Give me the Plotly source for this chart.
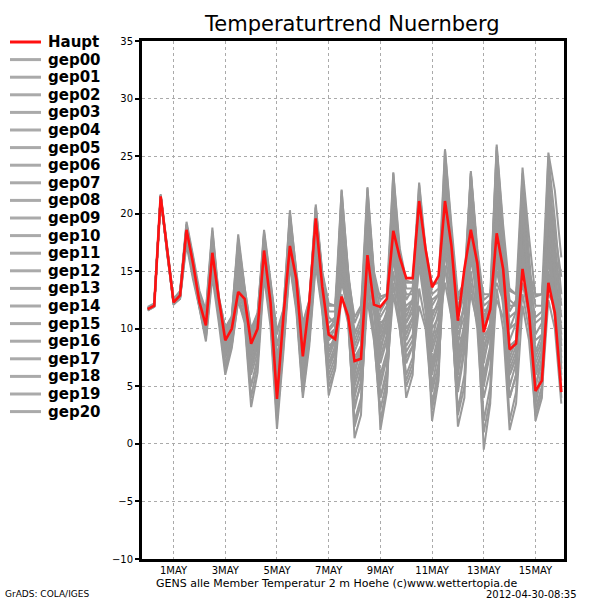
import pandas as pd
import plotly.graph_objects as go

# ---------------- data ----------------
start_time = "2012-04-30 00:00"
n_steps = 65  # 6-hourly, 30 Apr 00Z .. 16 May 00Z

haupt = [11.7, 12.0, 21.5, 16.7,
         12.3, 12.9, 18.6, 15.7,
         12.3, 10.3, 16.6, 12.6,
         9.0, 10.0, 13.2, 12.6,
         8.7, 10.0, 16.8, 12.3,
         3.9, 11.1, 17.2, 14.3,
         7.6, 12.3, 19.6, 13.7,
         9.5, 9.1, 12.8, 11.1,
         7.2, 7.4, 16.4, 12.1,
         11.9, 12.6, 18.5, 16.2,
         14.4, 14.4, 21.1, 16.9,
         13.6, 14.6, 21.1, 17.2,
         10.7, 15.2, 18.6, 15.7,
         9.7, 11.7, 18.3, 15.2,
         8.2, 8.7, 15.2, 11.4,
         4.6, 5.5, 14.0, 11.4,
         4.5]

gep00 = [11.8, 12.1, 21.3, 16.9, 12.4, 13.0, 18.9, 15.5, 12.5, 10.8, 17.2, 12.4, 8.6, 10.2, 14.5, 12.8,
         8.2, 10.6, 17.5, 13.0, 5.0, 10.8, 18.0, 14.0, 6.5, 11.5, 19.0, 13.2, 8.0, 9.5, 15.0, 12.0,
         6.0, 8.5, 17.5, 13.0, 9.0, 11.0, 19.5, 14.5, 10.5, 12.0, 20.0, 15.5, 9.0, 11.5, 21.5, 16.0,
         8.5, 12.5, 20.0, 14.0, 7.0, 10.0, 19.0, 14.5, 9.0, 10.5, 17.0, 12.5, 6.5, 8.0, 16.5, 13.0, 8.0]
gep01 = [11.6, 11.9, 21.6, 16.5, 12.2, 12.8, 18.2, 15.2, 12.0, 9.5, 15.8, 11.5, 7.5, 9.0, 13.0, 11.8,
         6.5, 8.5, 16.0, 12.5, 6.0, 9.8, 19.2, 14.5, 9.0, 12.0, 20.5, 14.8, 10.5, 11.0, 21.5, 14.5,
         9.0, 10.5, 20.0, 14.0, 8.0, 10.5, 22.0, 16.0, 11.0, 12.5, 22.5, 16.5, 10.5, 12.0, 24.5, 17.5,
         11.0, 13.0, 23.5, 16.5, 10.0, 12.0, 25.5, 18.0, 11.5, 12.5, 21.0, 14.0, 8.0, 9.5, 20.5, 15.0, 10.0]
gep02 = [11.7, 12.0, 21.4, 16.6, 12.1, 12.6, 17.3, 14.3, 11.8, 8.9, 14.5, 10.5, 6.0, 8.3, 12.5, 10.5,
         3.2, 6.2, 14.5, 10.2, 1.3, 8.0, 15.5, 11.5, 4.0, 8.5, 15.5, 11.5, 5.0, 6.5, 13.0, 10.5,
         2.0, 4.0, 12.5, 9.0, 3.0, 5.5, 14.0, 10.0, 5.0, 6.5, 13.5, 10.5, 4.5, 7.0, 15.5, 11.0,
         3.0, 6.0, 15.0, 11.0, 4.0, 6.5, 16.0, 12.0, 6.0, 7.5, 13.0, 10.0, 3.0, 5.0, 14.5, 11.0, 5.5]
gep03 = [11.9, 12.2, 21.7, 17.0, 12.6, 13.3, 19.3, 16.4, 13.3, 11.6, 18.8, 12.8, 10.0, 11.0, 18.2, 13.6,
         9.8, 11.3, 18.6, 14.2, 9.5, 11.6, 20.3, 14.8, 10.3, 12.4, 20.8, 15.0, 12.2, 12.0, 22.0, 15.0,
         10.5, 11.8, 22.3, 15.0, 12.5, 13.0, 23.6, 17.0, 14.2, 14.0, 22.7, 17.0, 13.8, 14.0, 25.6, 19.0,
         12.8, 14.0, 23.7, 17.0, 12.5, 13.0, 26.0, 19.0, 13.3, 13.0, 24.0, 18.0, 12.8, 13.0, 25.3, 22.0, 16.2]
gep04 = [11.7, 12.0, 21.5, 16.8, 12.3, 12.9, 18.0, 15.0, 12.2, 10.0, 16.0, 11.8, 8.0, 9.5, 15.5, 12.0,
         7.5, 9.5, 15.8, 11.5, 3.0, 9.0, 16.5, 12.5, 5.5, 10.0, 18.5, 12.5, 6.5, 8.0, 18.0, 12.5,
         4.0, 6.5, 19.0, 12.0, 5.0, 7.5, 20.5, 13.0, 8.0, 9.0, 19.0, 13.5, 5.0, 8.0, 22.0, 14.0,
         6.0, 9.5, 21.0, 13.0, 2.0, 5.0, 22.5, 14.0, 4.0, 6.0, 20.0, 13.0, 3.5, 6.0, 22.0, 15.0, 7.0]
gep05 = [11.8, 12.0, 21.4, 16.7, 12.2, 12.7, 18.4, 15.8, 12.8, 11.0, 17.8, 12.2, 9.5, 10.5, 16.5, 13.0,
         9.0, 10.8, 17.8, 13.5, 7.0, 11.0, 19.0, 14.0, 8.0, 11.0, 17.5, 13.5, 11.0, 10.5, 14.0, 12.0,
         10.0, 9.5, 13.0, 11.5, 10.5, 11.0, 16.0, 13.0, 12.0, 12.5, 17.5, 14.0, 12.5, 13.0, 19.0, 15.5,
         12.0, 13.5, 17.0, 14.5, 11.5, 12.0, 14.0, 12.5, 11.0, 11.5, 15.0, 12.5, 10.5, 11.0, 13.0, 12.0, 11.5]
gep06 = [11.6, 12.0, 21.5, 16.6, 12.4, 13.1, 19.0, 16.0, 12.4, 10.5, 17.0, 12.3, 9.2, 10.0, 14.0, 12.5,
         8.0, 9.8, 18.2, 13.0, 4.5, 10.5, 19.8, 14.5, 7.0, 11.8, 20.0, 14.0, 9.0, 10.0, 19.5, 13.5,
         5.0, 7.0, 21.0, 14.5, 1.2, 4.5, 17.0, 11.0, 4.0, 6.0, 18.0, 12.5, 2.0, 5.5, 20.0, 13.5,
         4.5, 8.0, 22.0, 14.5, 8.0, 10.5, 24.5, 16.5, 7.0, 8.5, 23.0, 15.5, 5.0, 7.5, 24.0, 17.5, 12.0]
gep07 = [11.7, 12.1, 21.6, 16.8, 12.3, 12.9, 18.5, 15.4, 12.1, 10.2, 16.3, 12.0, 8.8, 9.8, 13.8, 12.2,
         8.5, 10.2, 16.5, 12.5, 6.0, 10.0, 17.0, 13.0, 4.5, 9.0, 16.0, 12.0, 7.0, 8.5, 16.5, 12.0,
         6.5, 8.0, 18.5, 12.5, 7.5, 9.5, 19.0, 14.0, 9.5, 11.0, 20.5, 15.0, 8.0, 10.0, 23.0, 15.5,
         7.5, 10.5, 18.5, 13.5, 9.0, 10.5, 16.5, 13.0, 8.0, 9.0, 18.0, 13.0, 7.0, 8.5, 19.0, 14.0, 9.0]
gep08 = [11.8, 12.1, 21.5, 16.7, 12.5, 13.2, 18.8, 15.9, 12.6, 10.6, 17.5, 12.5, 9.8, 10.8, 17.0, 13.2,
         9.5, 11.0, 18.0, 13.8, 8.5, 11.3, 18.5, 14.2, 9.5, 12.2, 19.5, 14.5, 11.5, 11.5, 20.5, 14.0,
         8.0, 9.5, 16.0, 12.5, 11.0, 12.0, 18.0, 15.0, 13.0, 13.0, 21.0, 16.0, 13.0, 13.5, 22.5, 17.0,
         12.5, 13.5, 19.5, 15.5, 11.0, 12.5, 20.0, 15.5, 12.0, 12.0, 19.0, 14.0, 11.0, 11.5, 17.5, 13.5, 12.5]
gep09 = [11.7, 12.0, 21.4, 16.6, 12.2, 12.6, 17.8, 14.8, 12.0, 9.8, 15.5, 11.2, 7.0, 8.8, 12.8, 11.0,
         5.0, 7.5, 15.0, 11.0, 2.0, 8.5, 16.0, 12.0, 5.0, 9.5, 17.0, 12.0, 4.2, 6.5, 17.5, 11.5,
         0.5, 2.5, 15.0, 9.5, 2.0, 5.0, 17.5, 11.0, 6.0, 7.5, 16.5, 12.0, 3.0, 6.0, 19.0, 12.5,
         1.5, 4.0, 17.5, 11.5, -0.5, 3.5, 18.5, 12.5, 2.0, 4.5, 17.0, 12.0, 2.0, 4.0, 18.0, 13.0, 4.0]
gep10 = [11.8, 12.1, 21.5, 16.8, 12.3, 12.9, 18.3, 15.3, 12.3, 10.4, 16.8, 12.1, 8.5, 9.7, 15.0, 12.4,
         7.0, 9.0, 17.0, 12.8, 5.5, 10.2, 18.5, 13.8, 8.5, 11.2, 18.0, 13.0, 9.5, 10.0, 17.0, 13.0,
         7.5, 8.5, 17.0, 13.5, 9.5, 11.5, 21.0, 15.5, 11.5, 12.5, 18.0, 14.5, 7.0, 9.5, 20.5, 14.5,
         9.5, 11.0, 16.0, 13.0, 10.5, 11.0, 15.0, 12.5, 10.0, 10.5, 16.0, 12.0, 9.0, 9.5, 15.0, 12.0, 10.5]
gep11 = [11.6, 11.9, 21.3, 16.5, 12.1, 12.7, 17.6, 14.6, 11.9, 9.3, 15.0, 11.0, 6.5, 8.5, 13.5, 11.5,
         6.0, 8.0, 15.5, 11.8, 3.5, 9.5, 17.5, 13.5, 6.0, 10.5, 19.0, 13.8, 8.5, 9.0, 20.0, 13.0,
         3.0, 5.5, 20.5, 13.0, 4.0, 6.5, 21.5, 14.0, 7.0, 8.5, 21.5, 14.5, 6.0, 8.5, 24.0, 16.0,
         5.0, 8.5, 22.5, 15.0, 6.0, 8.5, 23.5, 15.5, 5.0, 7.0, 22.0, 14.5, 4.0, 6.5, 21.0, 15.5, 8.5]
gep12 = [11.7, 12.0, 21.5, 16.7, 12.4, 13.0, 18.9, 16.2, 12.7, 11.2, 18.2, 12.6, 9.5, 10.6, 17.5, 13.3,
         9.0, 10.5, 18.4, 13.9, 7.5, 11.2, 19.5, 14.6, 9.8, 12.3, 20.2, 14.3, 10.0, 10.8, 21.0, 14.8,
         9.5, 11.0, 21.5, 14.8, 11.5, 12.5, 22.5, 16.5, 13.5, 13.5, 20.0, 15.5, 12.0, 13.0, 21.0, 15.0,
         10.0, 12.0, 21.5, 15.5, 12.0, 12.5, 22.0, 17.0, 12.5, 12.0, 20.5, 15.0, 12.0, 12.0, 23.0, 18.5, 14.5]
gep13 = [11.7, 12.0, 21.6, 16.6, 12.3, 12.8, 18.1, 15.1, 12.2, 9.9, 15.8, 11.4, 7.8, 9.2, 13.5, 11.5,
         7.0, 8.8, 16.2, 12.0, 4.0, 9.2, 16.8, 12.8, 6.0, 10.2, 17.5, 12.8, 5.5, 7.0, 15.5, 11.0,
         3.5, 5.0, 14.0, 10.0, 6.0, 8.0, 15.0, 11.0, 8.5, 9.5, 15.5, 11.5, 9.5, 10.0, 14.0, 11.0,
         9.0, 9.5, 13.0, 10.5, 9.5, 10.0, 12.5, 11.0, 8.5, 9.0, 14.0, 11.0, 8.0, 8.5, 16.0, 12.0, 7.5]
gep14 = [11.8, 12.1, 21.4, 16.8, 12.5, 13.1, 18.7, 15.6, 12.4, 10.4, 17.0, 12.3, 9.0, 10.3, 16.0, 12.8,
         8.8, 10.3, 17.2, 13.2, 6.5, 10.5, 18.8, 14.3, 7.5, 11.5, 20.6, 14.6, 9.8, 10.5, 22.1, 15.1,
         8.5, 10.0, 22.2, 14.5, 10.0, 11.5, 23.5, 16.5, 12.5, 13.5, 22.0, 16.5, 11.0, 12.5, 25.5, 18.5,
         11.5, 13.5, 23.5, 16.5, 10.5, 12.5, 25.8, 18.5, 10.0, 11.5, 23.5, 16.5, 9.5, 10.5, 25.0, 19.5, 13.0]
gep15 = [11.7, 12.0, 21.5, 16.6, 12.2, 12.8, 18.6, 15.6, 12.0, 9.6, 16.2, 11.9, 8.2, 9.6, 14.8, 12.2,
         6.8, 9.2, 17.5, 12.7, 5.0, 9.8, 18.3, 13.5, 7.0, 10.8, 18.8, 13.5, 8.0, 9.0, 19.0, 13.5,
         5.5, 7.5, 19.5, 13.0, 7.0, 9.0, 19.8, 14.5, 10.0, 11.0, 20.5, 15.0, 8.5, 10.5, 22.0, 15.5,
         7.0, 10.0, 20.5, 14.0, 5.0, 8.0, 21.0, 14.5, 6.5, 8.0, 21.5, 14.5, 6.0, 8.0, 22.5, 16.5, 11.0]
gep16 = [11.8, 12.1, 21.5, 16.7, 12.3, 12.9, 19.1, 16.0, 12.9, 11.4, 18.5, 12.7, 10.1, 11.1, 17.8, 13.5,
         10.0, 11.4, 18.0, 14.0, 9.8, 11.7, 20.0, 15.0, 10.5, 12.5, 19.8, 14.8, 12.0, 12.0, 18.5, 14.5,
         11.0, 12.0, 18.0, 14.0, 12.8, 13.0, 20.0, 15.5, 14.0, 14.0, 19.5, 15.5, 14.0, 14.0, 20.0, 15.5,
         13.0, 14.0, 18.0, 15.0, 13.0, 13.0, 17.0, 14.0, 13.5, 13.0, 18.5, 15.0, 13.0, 13.0, 19.5, 16.0, 15.0]
gep17 = [11.6, 12.0, 21.5, 16.7, 12.2, 12.7, 18.2, 15.0, 11.8, 9.2, 15.3, 11.3, 6.8, 8.6, 12.4, 10.8,
         4.0, 7.0, 14.8, 10.8, 2.5, 8.8, 15.8, 11.8, 4.5, 9.0, 16.5, 11.8, 6.0, 7.5, 14.5, 11.0,
         1.5, 3.5, 13.5, 9.5, 4.0, 6.0, 13.0, 10.0, 5.5, 7.0, 12.0, 10.0, 3.5, 6.5, 17.0, 11.5,
         2.5, 5.0, 14.0, 10.0, 1.0, 4.0, 13.5, 10.0, 1.2, 3.5, 12.0, 9.0, 2.5, 4.5, 12.5, 10.0, 3.5]
gep18 = [11.7, 12.1, 21.6, 16.8, 12.4, 13.0, 18.7, 15.6, 12.5, 10.7, 17.4, 12.4, 9.4, 10.4, 16.0, 12.9,
         8.6, 10.4, 17.0, 13.0, 7.0, 10.8, 18.0, 14.0, 8.0, 11.0, 18.5, 13.0, 7.5, 9.0, 18.0, 12.5,
         7.0, 8.5, 18.5, 13.0, 8.5, 10.0, 18.0, 13.5, 9.0, 10.5, 19.5, 14.0, 10.0, 11.0, 18.5, 14.0,
         8.0, 10.0, 19.0, 13.5, 8.5, 10.0, 20.5, 14.0, 7.5, 9.0, 19.5, 13.5, 7.5, 9.0, 20.0, 14.5, 9.5]
gep19 = [11.8, 12.0, 21.4, 16.7, 12.3, 12.8, 18.4, 15.5, 12.3, 10.1, 16.5, 12.2, 8.3, 9.5, 14.2, 12.0,
         7.8, 9.6, 16.8, 12.3, 4.8, 10.0, 17.5, 13.2, 6.5, 10.0, 17.0, 12.5, 7.0, 8.0, 16.0, 12.0,
         4.5, 6.0, 16.5, 11.5, 5.5, 7.5, 18.5, 12.5, 7.5, 8.5, 17.5, 12.5, 6.5, 9.0, 19.5, 13.0,
         6.5, 9.0, 20.0, 13.0, 5.5, 8.0, 19.5, 13.5, 4.0, 6.0, 20.5, 13.5, 5.0, 7.0, 21.5, 15.0, 6.5]
gep20 = [11.7, 12.0, 21.5, 16.7, 12.3, 12.9, 18.6, 15.6, 12.4, 10.6, 16.8, 12.5, 9.0, 10.2, 15.2, 12.6,
         8.3, 10.0, 16.5, 12.5, 5.5, 10.5, 17.8, 13.5, 7.8, 11.2, 19.0, 13.5, 9.0, 9.5, 17.5, 12.5,
         6.5, 8.0, 15.5, 11.5, 9.0, 10.5, 16.5, 13.5, 10.5, 11.5, 18.5, 14.0, 11.5, 12.0, 17.5, 14.0,
         10.5, 11.5, 16.5, 13.0, 7.5, 9.5, 17.5, 13.0, 6.0, 7.5, 16.5, 12.0, 6.0, 7.0, 17.0, 12.5, 6.0]

members = {
    "gep00": gep00, "gep01": gep01, "gep02": gep02, "gep03": gep03, "gep04": gep04,
    "gep05": gep05, "gep06": gep06, "gep07": gep07, "gep08": gep08, "gep09": gep09,
    "gep10": gep10, "gep11": gep11, "gep12": gep12, "gep13": gep13, "gep14": gep14,
    "gep15": gep15, "gep16": gep16, "gep17": gep17, "gep18": gep18, "gep19": gep19,
    "gep20": gep20,
}

tick_dates = ["2012-05-01", "2012-05-03", "2012-05-05", "2012-05-07",
              "2012-05-09", "2012-05-11", "2012-05-13", "2012-05-15"]
tick_labels = ["1MAY", "3MAY", "5MAY", "7MAY", "9MAY", "11MAY", "13MAY", "15MAY"]
y_ticks = [-10, -5, 0, 5, 10, 15, 20, 25, 30, 35]

# ---------------- figure ----------------
times = pd.date_range(start_time, periods=n_steps, freq="6h")

RED = "#ff1010"
GRAY = "#999999"
LEG_GRAY = "#aaaaaa"
FONT = "DejaVu Sans"

fig = go.Figure()
for name, vals in members.items():
    fig.add_trace(go.Scatter(x=times, y=vals, mode="lines", name=name,
                             line=dict(color=GRAY, width=2), showlegend=False))
fig.add_trace(go.Scatter(x=times, y=haupt, mode="lines", name="Haupt",
                         line=dict(color=RED, width=2.6), showlegend=False))

L, R, T, B = 142, 36, 41, 41
W, H = 600, 600
pw, ph = W - L - R, H - T - B


def px_x(px):
    return (px - L) / pw


def px_y(py):
    return (H - B - py) / ph


# legend drawn at the left like the original
legend_names = ["Haupt"] + list(members.keys())
shapes = []
annotations = []
for k, nm in enumerate(legend_names):
    yy = 42 + k * 17.6
    col = RED if nm == "Haupt" else LEG_GRAY
    shapes.append(dict(type="line", xref="paper", yref="paper",
                       x0=px_x(10), x1=px_x(41), y0=px_y(yy), y1=px_y(yy),
                       line=dict(color=col, width=3)))
    annotations.append(dict(text=nm, xref="paper", yref="paper",
                            x=px_x(46), y=px_y(yy), xanchor="left", yanchor="middle",
                            showarrow=False, font=dict(family=FONT, size=15, color="black",
                                                       weight="bold")))

annotations.append(dict(text="Temperaturtrend Nuernberg", xref="paper", yref="paper",
                        x=px_x(352), y=px_y(24), xanchor="center", yanchor="middle",
                        showarrow=False, font=dict(family=FONT, size=21, color="black")))
annotations.append(dict(text="GENS alle Member Temperatur 2 m Hoehe (c)www.wettertopia.de",
                        xref="paper", yref="paper", x=px_x(336), y=px_y(583),
                        xanchor="center", yanchor="middle", showarrow=False,
                        font=dict(family=FONT, size=11, color="black")))
annotations.append(dict(text="2012-04-30-08:35", xref="paper", yref="paper",
                        x=px_x(579), y=px_y(594), xanchor="right", yanchor="middle",
                        showarrow=False, font=dict(family=FONT, size=10, color="black")))
annotations.append(dict(text="GrADS: COLA/IGES", xref="paper", yref="paper",
                        x=px_x(3), y=px_y(594), xanchor="left", yanchor="middle",
                        showarrow=False, font=dict(family=FONT, size=9, color="black")))

fig.update_layout(
    width=W, height=H,
    margin=dict(l=L, r=R, t=T, b=B, pad=0),
    paper_bgcolor="white", plot_bgcolor="white",
    showlegend=False,
    shapes=shapes, annotations=annotations,
    font=dict(family=FONT, size=10, color="black"),
)
fig.update_xaxes(
    type="date",
    range=["2012-04-29 18:40", "2012-05-16 02:30"],
    tickvals=tick_dates, ticktext=tick_labels,
    showgrid=True, gridcolor="#aaaaaa", gridwidth=1, griddash="dot",
    showline=True, linecolor="black", linewidth=3, mirror=True,
    ticks="", tickfont=dict(family=FONT, size=10, color="black"),
    zeroline=False,
)
fig.update_yaxes(
    range=[-10, 35], tickvals=y_ticks,
    showgrid=True, gridcolor="#aaaaaa", gridwidth=1, griddash="dot",
    showline=True, linecolor="black", linewidth=3, mirror=True,
    ticks="outside", ticklen=4, tickwidth=2, tickcolor="black",
    tickfont=dict(family=FONT, size=10, color="black"),
    zeroline=False,
)

fig.write_html("out.html",
               config={"displayModeBar": False},
               post_script="document.body.style.margin='0';document.body.style.overflow='hidden';")
